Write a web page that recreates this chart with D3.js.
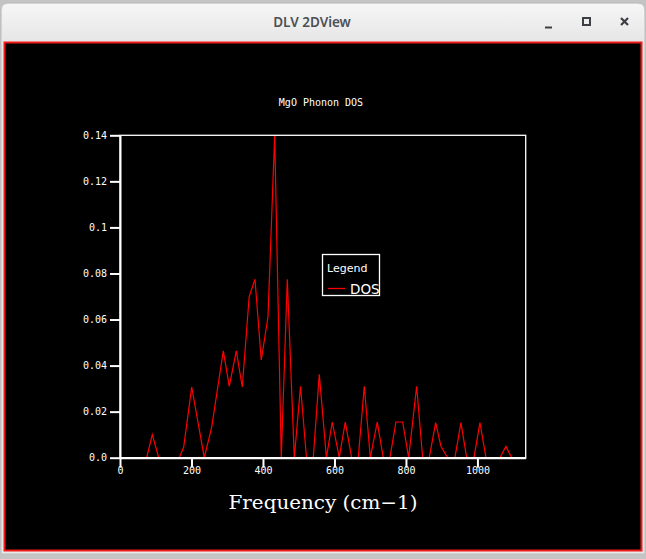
<!DOCTYPE html>
<html><head><meta charset="utf-8">
<script src="https://cdn.jsdelivr.net/npm/d3@7"></script>
<style>html,body{margin:0;padding:0;background:#c9c9c9;overflow:hidden}</style>
</head><body>
<script>
// ---- data ----
const freq = [0, 74.7, 90.3, 108.3, 165.9, 178.2, 200.6, 235.8, 256.5, 289.0, 305.7, 325.3, 342.1, 361.4, 377.6, 395.2, 414.0, 432.7, 451.2, 468.0, 487.6, 505.0, 521.7, 540.7, 557.5, 577.5, 593.8, 613.4, 630.2, 648.1, 666.6, 683.4, 700.3, 719.7, 736.5, 755.2, 772.0, 790.8, 807.5, 829.9, 846.7, 865.2, 883.1, 897.9, 916.6, 937.0, 953.8, 969.8, 990.2, 1007.0, 1023.8, 1062.9, 1079.7, 1095.7, 1135];
const dos = [0, 0, 0.0100, 0, 0, 0.0046, 0.0307, 0, 0.0133, 0.0464, 0.031, 0.0464, 0.0307, 0.070, 0.0775, 0.0424, 0.0611, 0.14, 0, 0.0775, 0, 0.031, 0, 0, 0.0362, 0, 0.0155, 0, 0.0155, 0, 0, 0.031, 0, 0.0155, 0, 0, 0.0155, 0.0155, 0, 0.031, 0, 0, 0.0152, 0.005, 0, 0, 0.0152, 0, 0, 0.0152, 0, 0, 0.0049, 0, 0];
const xTicks = [0, 200, 400, 600, 800, 1000];
const yTicks = [0, 0.02, 0.04, 0.06, 0.08, 0.1, 0.12, 0.14];
const yTickLabels = ["0.0", "0.02", "0.04", "0.06", "0.08", "0.1", "0.12", "0.14"];
const chartTitle = "MgO Phonon DOS";
const xTitle = "Frequency (cm\u22121)";
const seriesName = "DOS";
const windowTitle = "DLV 2DView";

const W = 646, H = 559;
const svg = d3.select("body").append("svg").attr("width", W).attr("height", H);

// window chrome
svg.append("rect").attr("x", 0).attr("y", 0).attr("width", W).attr("height", H).attr("fill", "#c4c4c4");
const defs = svg.append("defs");
const g1 = defs.append("linearGradient").attr("id", "tb").attr("x1", 0).attr("y1", 0).attr("x2", 0).attr("y2", 1);
g1.append("stop").attr("offset", "0%").attr("stop-color", "#f6f6f6");
g1.append("stop").attr("offset", "100%").attr("stop-color", "#e6e6e6");
svg.append("path").attr("d", "M1,554 L1,10 Q1,3 8,3 L638,3 Q645,3 645,10 L645,554 Z").attr("fill", "#e8e8e8").attr("stroke", "#bdbdbd");
svg.append("path").attr("d", "M2,41 L2,10 Q2,4 8,4 L638,4 Q644,4 644,10 L644,41 Z").attr("fill", "url(#tb)");
svg.append("text").attr("x", 312).attr("y", 27).attr("text-anchor", "middle")
  .attr("font-family", "Noto Sans, DejaVu Sans, sans-serif").attr("font-size", 13.5).attr("font-weight", 600)
  .attr("fill", "#4b5055").text(windowTitle);
const ic = svg.append("g").attr("stroke", "#3c4044").attr("stroke-width", 2).attr("fill", "none");
ic.append("line").attr("x1", 545).attr("x2", 552).attr("y1", 27.5).attr("y2", 27.5);
ic.append("rect").attr("x", 583).attr("y", 18).attr("width", 7).attr("height", 7);
ic.append("path").attr("d", "M621,18 L628,25 M628,18 L621,25").attr("stroke-width", 2.2);

// canvas
svg.append("rect").attr("x", 4.5).attr("y", 42.5).attr("width", 637).attr("height", 508)
  .attr("fill", "#000").attr("stroke", "#f01a1a").attr("stroke-width", 2);

// plot
const x0 = 120, x1 = 525.7, y0 = 457.7, y1 = 135.3;
const x = d3.scaleLinear().domain([0, 1135]).range([x0, x1]);
const y = d3.scaleLinear().domain([0, 0.14]).range([y0, y1]);

const pts = freq.map((f, i) => [f, dos[i]]);
svg.append("path").datum(pts)
  .attr("d", d3.line().x(d => x(d[0])).y(d => y(d[1])))
  .attr("fill", "none").attr("stroke", "#ff0000").attr("stroke-width", 1.2);

// frame
svg.append("rect").attr("x", x0).attr("y", y1).attr("width", x1 - x0).attr("height", y0 - y1)
  .attr("fill", "none").attr("stroke", "#fff").attr("stroke-width", 1.3);

const mono = "DejaVu Sans Mono, Liberation Mono, monospace";
const xAxis = d3.axisBottom(x).tickValues(xTicks).tickSize(10).tickSizeOuter(0).tickFormat(d3.format("d"));
const gx = svg.append("g").attr("transform", `translate(0,${y0})`).call(xAxis);
const yAxis = d3.axisLeft(y).tickValues(yTicks).tickSize(10).tickSizeOuter(0).tickFormat((d, i) => yTickLabels[i]);
const gy = svg.append("g").attr("transform", `translate(${x0},0)`).call(yAxis);
[gx, gy].forEach(g => {
  g.select(".domain").attr("stroke", "#fff").attr("stroke-width", 2);
  g.selectAll(".tick line").attr("stroke", "#fff").attr("stroke-width", 2);
  g.selectAll(".tick text").attr("fill", "#fff").attr("font-family", mono).attr("font-size", 10);
});
gx.selectAll(".tick text").attr("dy", "0.2em").attr("y", 14);
gy.selectAll(".tick text").attr("x", -13);

// titles
svg.append("text").attr("x", 321).attr("y", 106).attr("text-anchor", "middle")
  .attr("font-family", mono).attr("font-size", 10).attr("fill", "#fff").text(chartTitle);
svg.append("text").attr("x", 323).attr("y", 509).attr("text-anchor", "middle")
  .attr("font-family", "DejaVu Serif, Liberation Serif, serif").attr("font-size", 19)
  .attr("textLength", 189).attr("lengthAdjust", "spacingAndGlyphs")
  .attr("fill", "#fff").text(xTitle);

// legend
const lg = svg.append("g");
lg.append("rect").attr("x", 322.5).attr("y", 254.5).attr("width", 57).attr("height", 41)
  .attr("fill", "#000").attr("stroke", "#fff").attr("stroke-width", 1.3);
lg.append("text").attr("x", 327).attr("y", 272).attr("font-family", "DejaVu Sans, sans-serif")
  .attr("font-size", 11).attr("fill", "#fff").text("Legend");
lg.append("line").attr("x1", 328).attr("x2", 345).attr("y1", 288.5).attr("y2", 288.5)
  .attr("stroke", "#ff0000").attr("stroke-width", 1.3);
lg.append("text").attr("x", 350).attr("y", 294).attr("font-family", "DejaVu Sans, sans-serif")
  .attr("font-size", 13.5).attr("fill", "#fff").text(seriesName);
</script>
</body></html>
